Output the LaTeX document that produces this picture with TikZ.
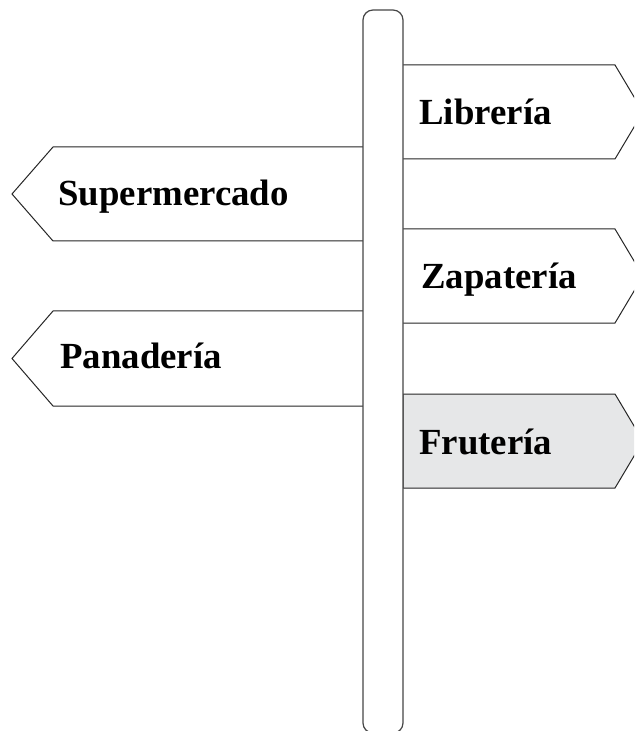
\documentclass[tikz,border=0pt]{standalone}
\usepackage{fontspec}
\setmainfont{Liberation Serif}
\usepackage{tikz}
\definecolor{signgray}{RGB}{230,231,232}
\definecolor{postline}{RGB}{70,70,70}

\begin{document}
\begin{tikzpicture}[
  x=0.5pt, y=-0.5pt,
  post/.style={
    draw=postline, line width=0.6pt, rounded corners=5pt
  },
  sign/.style={
    draw=black!85, line width=0.5pt, fill=white
  },
  label/.style={
    anchor=base west, inner sep=0pt,
    font=\fontsize{18.4}{22}\selectfont\bfseries
  }
]

\clip (0,0) rectangle (634,731);

% =====================================================
% LEFT SIGNS
% =====================================================

\draw[sign] (363,147) -- (53,147) -- (12,194) -- (53,241) -- (363,241);
\node[label] (supermercado) at (58,206) {Supermercado};

\draw[sign] (363,311) -- (53,311) -- (12,358.5) -- (53,406) -- (363,406);
\node[label] (panaderia) at (60,368) {Panadería};

% =====================================================
% RIGHT SIGNS
% =====================================================

\draw[sign] (403,65) -- (615,65) -- (643,112) -- (615,159) -- (403,159);
\node[label] (libreria) at (419,125) {Librería};

\draw[sign] (403,229) -- (615,229) -- (643,276) -- (615,323) -- (403,323);
\node[label] (zapateria) at (421,289) {Zapatería};

\draw[sign, fill=signgray] (403,394) -- (615,394) -- (643,441) -- (615,488) -- (403,488) -- cycle;
\node[label] (fruteria) at (419,454) {Frutería};

% =====================================================
% POST
% =====================================================

\draw[post, fill=white] (363,10) rectangle (403,733);

\end{tikzpicture}
\end{document}
